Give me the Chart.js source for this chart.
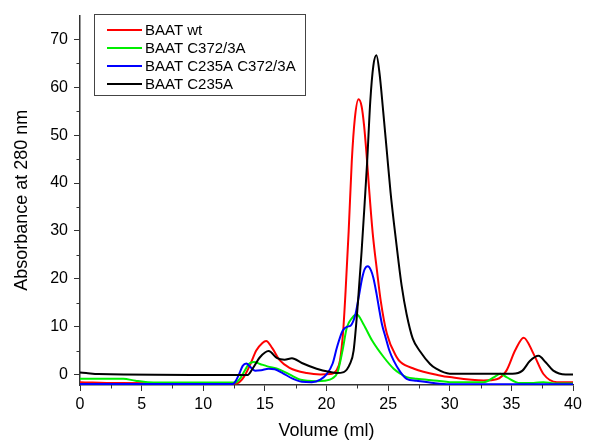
<!DOCTYPE html>
<html>
<head>
<meta charset="utf-8">
<script src="https://cdn.jsdelivr.net/npm/chart.js@4"></script>
<style>
  body { margin: 0; background: #fff; }
  #wrap { width: 590px; height: 443px; }
</style>
</head>
<body>
<div id="wrap"><canvas id="sec" width="590" height="443"></canvas></div>
<script>
// Elution profiles (volume in ml, absorbance at 280 nm)
const wtVol  = [0, 3, 12.5, 12.8, 13.3, 13.8, 14.3, 14.8, 15.1, 15.6, 16.2, 17.0, 18.4, 19.5, 20.3, 20.8, 21.1, 21.35, 21.55, 21.8, 22.05, 22.3, 22.6, 22.85, 23.05, 23.25, 23.45, 23.75, 24.1, 24.4, 24.9, 25.7, 26.0, 27.1, 29.2, 30.0, 32.75, 33.8, 34.6, 35.3, 36.0, 36.8, 37.6, 38.7, 40];
const wtAbs  = [-1.6, -1.8, -1.9, -1.8, -0.5, 2.0, 5.0, 6.6, 7.0, 5.5, 3.0, 1.4, 0.3, 0.0, 0.1, 0.8, 3.0, 9.0, 17.5, 30.0, 44.5, 53.5, 57.5, 56.0, 52.0, 46.0, 39.0, 29.5, 21.6, 15.4, 8.5, 3.6, 2.6, 1.2, -0.2, -0.55, -1.25, -1.0, 0.8, 5.0, 7.7, 4.3, 0.1, -1.6, -1.6];

const c372Vol = [0, 3.5, 4.5, 5.5, 8, 12.6, 13.0, 13.3, 13.7, 14.1, 14.6, 15.2, 16.2, 17.0, 17.9, 19.2, 19.8, 20.5, 20.9, 21.3, 21.65, 22.1, 22.45, 23.0, 23.7, 24.65, 25.45, 26.0, 26.5, 27.3, 29.0, 30.0, 32.75, 33.6, 34.1, 34.6, 35.7, 36.8, 37.6, 38.5, 40];
const c372Abs = [-0.9, -0.9, -1.3, -1.6, -1.7, -1.7, -0.8, 0.5, 2.2, 2.6, 2.2, 1.7, 1.0, 0.0, -1.1, -1.4, -1.3, -0.8, 0.5, 5.0, 9.8, 11.9, 12.6, 10.5, 7.1, 3.6, 1.2, 0.15, -0.55, -0.9, -1.3, -1.6, -1.6, -0.55, 0.15, -0.55, -1.8, -1.8, -1.6, -1.9, -1.9];

const dblVol = [0, 12.4, 12.6, 12.9, 13.2, 13.5, 13.8, 14.2, 14.7, 15.3, 15.8, 16.5, 17.2, 18.0, 18.8, 19.5, 20.0, 20.5, 20.85, 21.3, 21.7, 21.95, 22.35, 22.6, 22.9, 23.1, 23.35, 23.6, 23.8, 24.05, 24.25, 24.5, 24.8, 25.1, 25.45, 26.0, 26.5, 27.3, 28.7, 30.0, 40];
const dblAbs = [-2.0, -2.0, -1.5, 0.0, 1.8, 2.3, 1.6, 0.8, 0.9, 1.2, 1.1, 0.2, -0.8, -1.5, -1.6, -1.1, 0.0, 2.3, 5.7, 9.1, 10.0, 10.2, 12.6, 16.0, 20.2, 22.0, 22.6, 21.8, 20.2, 17.0, 14.0, 10.5, 7.7, 5.0, 2.9, 0.5, -0.9, -1.3, -1.8, -2.05, -2.05];

const c235Vol = [0, 0.5, 1.5, 12.5, 13.6, 14.0, 14.6, 15.3, 16.0, 16.6, 17.2, 18.0, 19.2, 20.3, 20.8, 21.4, 21.9, 22.2, 22.55, 22.85, 23.1, 23.3, 23.55, 23.8, 24.05, 24.3, 24.6, 24.9, 25.2, 25.5, 25.8, 26.1, 26.5, 27.0, 27.6, 28.4, 28.9, 30.0, 35.1, 35.9, 36.5, 37.2, 37.8, 38.4, 39.4, 40];
const c235Abs = [0.4, 0.3, 0.1, -0.1, -0.1, 1.2, 3.6, 4.9, 3.4, 3.1, 3.4, 2.4, 1.2, 0.5, 0.3, 0.5, 2.2, 5.0, 15.0, 25.8, 36.0, 44.5, 57.0, 64.5, 66.7, 63.0, 55.0, 46.5, 38.0, 31.0, 24.5, 18.5, 12.6, 7.5, 4.8, 2.2, 1.2, 0.15, 0.15, 0.8, 2.8, 3.9, 2.5, 0.8, 0.0, 0.0];

const seriesNames = ["BAAT wt", "BAAT C372/3A", "BAAT C235A C372/3A", "BAAT C235A"];
const seriesColors = ["#ff0000", "#00ee00", "#0000ff", "#000000"];

const xTicks = [0, 5, 10, 15, 20, 25, 30, 35, 40];
const xMinorTicks = [2.5, 7.5, 12.5, 17.5, 22.5, 27.5, 32.5, 37.5];
const yTicks = [0, 10, 20, 30, 40, 50, 60, 70];
const yMinorTicks = [5, 15, 25, 35, 45, 55, 65];

function toPoints(vol, abs) {
    return vol.map((v, i) => ({ x: v, y: abs[i] }));
}

const curves = [[wtVol, wtAbs], [c372Vol, c372Abs], [dblVol, dblAbs], [c235Vol, c235Abs]];

// minor ticks + boxed legend inside the plot, like the original figure
const extras = {
    id: "extras",
    afterDraw(chart) {
        const ctx = chart.ctx;
        const x = chart.scales.x, y = chart.scales.y;
        const area = chart.chartArea;
        ctx.save();
        ctx.strokeStyle = "#333";
        ctx.lineWidth = 1;
        ctx.beginPath();
        xMinorTicks.forEach(v => {
            const px = Math.round(x.getPixelForValue(v)) + 0.5;
            ctx.moveTo(px, area.bottom);
            ctx.lineTo(px, area.bottom + 3.5);
        });
        yMinorTicks.forEach(v => {
            const py = Math.round(y.getPixelForValue(v)) + 0.5;
            ctx.moveTo(area.left, py);
            ctx.lineTo(area.left - 3.5, py);
        });
        ctx.stroke();

        // legend box
        ctx.strokeStyle = "#444";
        ctx.strokeRect(94.5, 14.5, 211, 81);
        ctx.font = "15px Arial, 'Liberation Sans', sans-serif";
        ctx.textBaseline = "middle";
        ctx.fillStyle = "#000";
        seriesNames.forEach((name, i) => {
            const rowY = 30 + i * 18;
            ctx.strokeStyle = seriesColors[i];
            ctx.lineWidth = 2;
            ctx.beginPath();
            ctx.moveTo(107, rowY);
            ctx.lineTo(142, rowY);
            ctx.stroke();
            ctx.fillText(name, 145, rowY + 1);
        });
        ctx.restore();
    }
};

Chart.defaults.font.family = "Arial, 'Liberation Sans', sans-serif";
Chart.defaults.color = "#000";

const ctx = document.getElementById("sec").getContext("2d");
new Chart(ctx, {
    type: "line",
    data: {
        datasets: curves.map((c, i) => ({
            label: seriesNames[i],
            data: toPoints(c[0], c[1]),
            borderColor: seriesColors[i],
            borderWidth: 2,
            pointRadius: 0,
            cubicInterpolationMode: "monotone",
            fill: false,
            order: 3 - i // black trace drawn on top
        }))
    },
    options: {
        responsive: false,
        animation: false,
        layout: { padding: { top: 14, right: 17, left: 0, bottom: 0 } },
        plugins: {
            legend: { display: false },
            tooltip: { enabled: false }
        },
        scales: {
            x: {
                type: "linear",
                min: 0,
                max: 40,
                afterBuildTicks: s => { s.ticks = xTicks.map(v => ({ value: v })); },
                afterFit: s => { s.height = 58; },
                ticks: { font: { size: 16 }, padding: 4, maxRotation: 0 },
                grid: { drawOnChartArea: false, drawTicks: true, tickLength: 6, color: "#333" },
                border: { display: true, color: "#333", width: 1.5 },
                title: { display: true, text: "Volume (ml)", font: { size: 18 }, padding: { top: 0, bottom: 1 } }
            },
            y: {
                min: -2.2,
                max: 75,
                afterBuildTicks: s => { s.ticks = yTicks.map(v => ({ value: v })); },
                afterFit: s => { s.width = 80; },
                ticks: { font: { size: 16 }, padding: 6 },
                grid: { drawOnChartArea: false, drawTicks: true, tickLength: 6, color: "#333" },
                border: { display: true, color: "#333", width: 1.5 },
                title: { display: true, text: "Absorbance at 280 nm", font: { size: 18 }, padding: { top: 11, bottom: 0 } }
            }
        }
    },
    plugins: [extras]
});
</script>
</body>
</html>
